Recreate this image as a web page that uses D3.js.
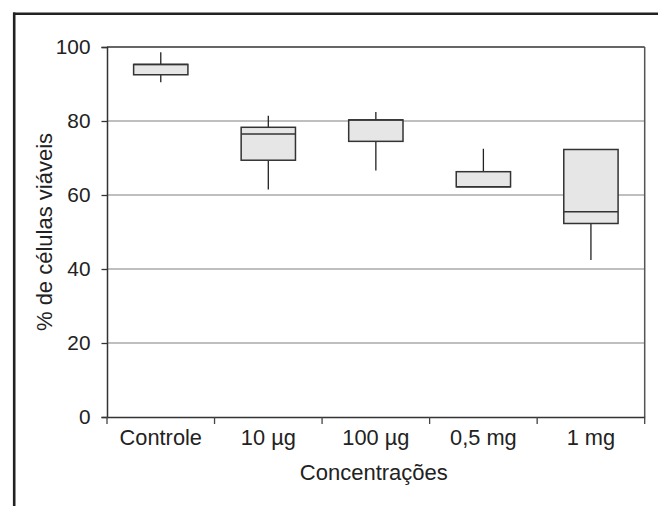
<!DOCTYPE html>
<html>
<head>
<meta charset="utf-8">
<script src="https://cdn.jsdelivr.net/npm/d3@7"></script>
<style>
  body { margin: 0; background: #fff; }
  svg { display: block; font-family: "Liberation Sans", Arial, sans-serif; }
</style>
</head>
<body>
<svg id="chart"></svg>
<script>
const categories = ["Controle", "10 \u00b5g", "100 \u00b5g", "0,5 mg", "1 mg"]
const whiskerHigh = [98.6, 81.4, 82.4, 72.5, 72.3]
const q3 = [95.3, 78.3, 80.3, 66.3, 72.3]
const median = [95.3, 76.5, 80.3, 62.2, 55.5]
const q1 = [92.5, 69.4, 74.5, 62.2, 52.3]
const whiskerLow = [90.5, 61.5, 66.6, 62.2, 42.4]
const yTicks = [0, 20, 40, 60, 80, 100]
const gridTicks = [20, 40, 60, 80]

const W = 658, H = 506
const margin = { top: 47, right: 13.3, bottom: 89, left: 107 }
const width = W - margin.left - margin.right
const height = H - margin.top - margin.bottom

const root = d3.select("#chart").attr("width", W).attr("height", H)

// outer frame (top and left only)
root.append("line").attr("x1", 13).attr("x2", W).attr("y1", 13.7).attr("y2", 13.7)
  .attr("stroke", "#222").attr("stroke-width", 2.6)
root.append("line").attr("x1", 14.2).attr("x2", 14.2).attr("y1", 12.5).attr("y2", H)
  .attr("stroke", "#222").attr("stroke-width", 2.6)

const svg = root.append("g")
  .attr("transform", "translate(" + margin.left + "," + margin.top + ")")

const data = categories.map((c, i) => ({
  cat: c, hi: whiskerHigh[i], q3: q3[i], med: median[i], q1: q1[i], lo: whiskerLow[i]
}))

const x = d3.scaleBand().domain(categories).range([0, width])
const y = d3.scaleLinear().domain([0, 100]).range([height, 0])

// grid
svg.selectAll(".grid").data(gridTicks).enter().append("line")
  .attr("x1", 0).attr("x2", width)
  .attr("y1", d => y(d)).attr("y2", d => y(d))
  .attr("stroke", "#aaa").attr("stroke-width", 1.5)

// top and right border of plot
svg.append("line").attr("x1", 0).attr("x2", width).attr("y1", 0).attr("y2", 0)
  .attr("stroke", "#333").attr("stroke-width", 1.5)
svg.append("line").attr("x1", width).attr("x2", width).attr("y1", 0).attr("y2", height)
  .attr("stroke", "#555").attr("stroke-width", 1.5)

// y axis
const yAxis = svg.append("g")
  .call(d3.axisLeft(y).tickValues(yTicks).tickSize(5.5).tickPadding(11))
yAxis.select(".domain").attr("stroke", "#333").attr("stroke-width", 1.5)
yAxis.selectAll(".tick line").attr("stroke", "#333").attr("stroke-width", 1.3)
yAxis.selectAll("text").attr("font-size", 20.8).attr("fill", "#222")
  .attr("font-family", "Liberation Sans, Arial, sans-serif")

// x axis
const xAxis = svg.append("g")
  .attr("transform", "translate(0," + height + ")")
  .call(d3.axisBottom(x).tickSize(0).tickPadding(12.5))
xAxis.select(".domain").attr("stroke", "#333").attr("stroke-width", 1.5)
xAxis.selectAll("text").attr("font-size", 21.8).attr("fill", "#222")
  .attr("font-family", "Liberation Sans, Arial, sans-serif")

// ticks at band edges
const edges = categories.map(c => x(c)).concat([width])
svg.selectAll(".xedge").data(edges).enter().append("line")
  .attr("x1", d => d).attr("x2", d => d)
  .attr("y1", height).attr("y2", height + 7)
  .attr("stroke", "#444").attr("stroke-width", 1.3)

// boxes
const bw = x.bandwidth() * 0.505
const g = svg.selectAll(".box").data(data).enter().append("g")
  .attr("transform", d => "translate(" + (x(d.cat) + x.bandwidth() / 2) + ",0)")

g.append("line").attr("x1", 0).attr("x2", 0)
  .attr("y1", d => y(d.hi)).attr("y2", d => y(d.q3))
  .attr("stroke", "#222").attr("stroke-width", 1.3)
g.append("line").attr("x1", 0).attr("x2", 0)
  .attr("y1", d => y(d.q1)).attr("y2", d => y(d.lo))
  .attr("stroke", "#222").attr("stroke-width", 1.3)
g.append("rect")
  .attr("x", -bw / 2).attr("width", bw)
  .attr("y", d => y(d.q3)).attr("height", d => y(d.q1) - y(d.q3))
  .attr("fill", "#e6e6e6").attr("stroke", "#333").attr("stroke-width", 1.5)
g.append("line").attr("x1", -bw / 2).attr("x2", bw / 2)
  .attr("y1", d => y(d.med)).attr("y2", d => y(d.med))
  .attr("stroke", "#333").attr("stroke-width", 1.5)

// axis titles
root.append("text")
  .attr("x", margin.left + width / 2 - 2).attr("y", 480)
  .attr("text-anchor", "middle").attr("font-size", 22).attr("fill", "#222")
  .text("Concentrações")
root.append("text")
  .attr("transform", "translate(52," + (margin.top + height / 2) + ") rotate(-90)")
  .attr("text-anchor", "middle").attr("font-size", 22).attr("fill", "#222")
  .text("% de células viáveis")
</script>
</body>
</html>
